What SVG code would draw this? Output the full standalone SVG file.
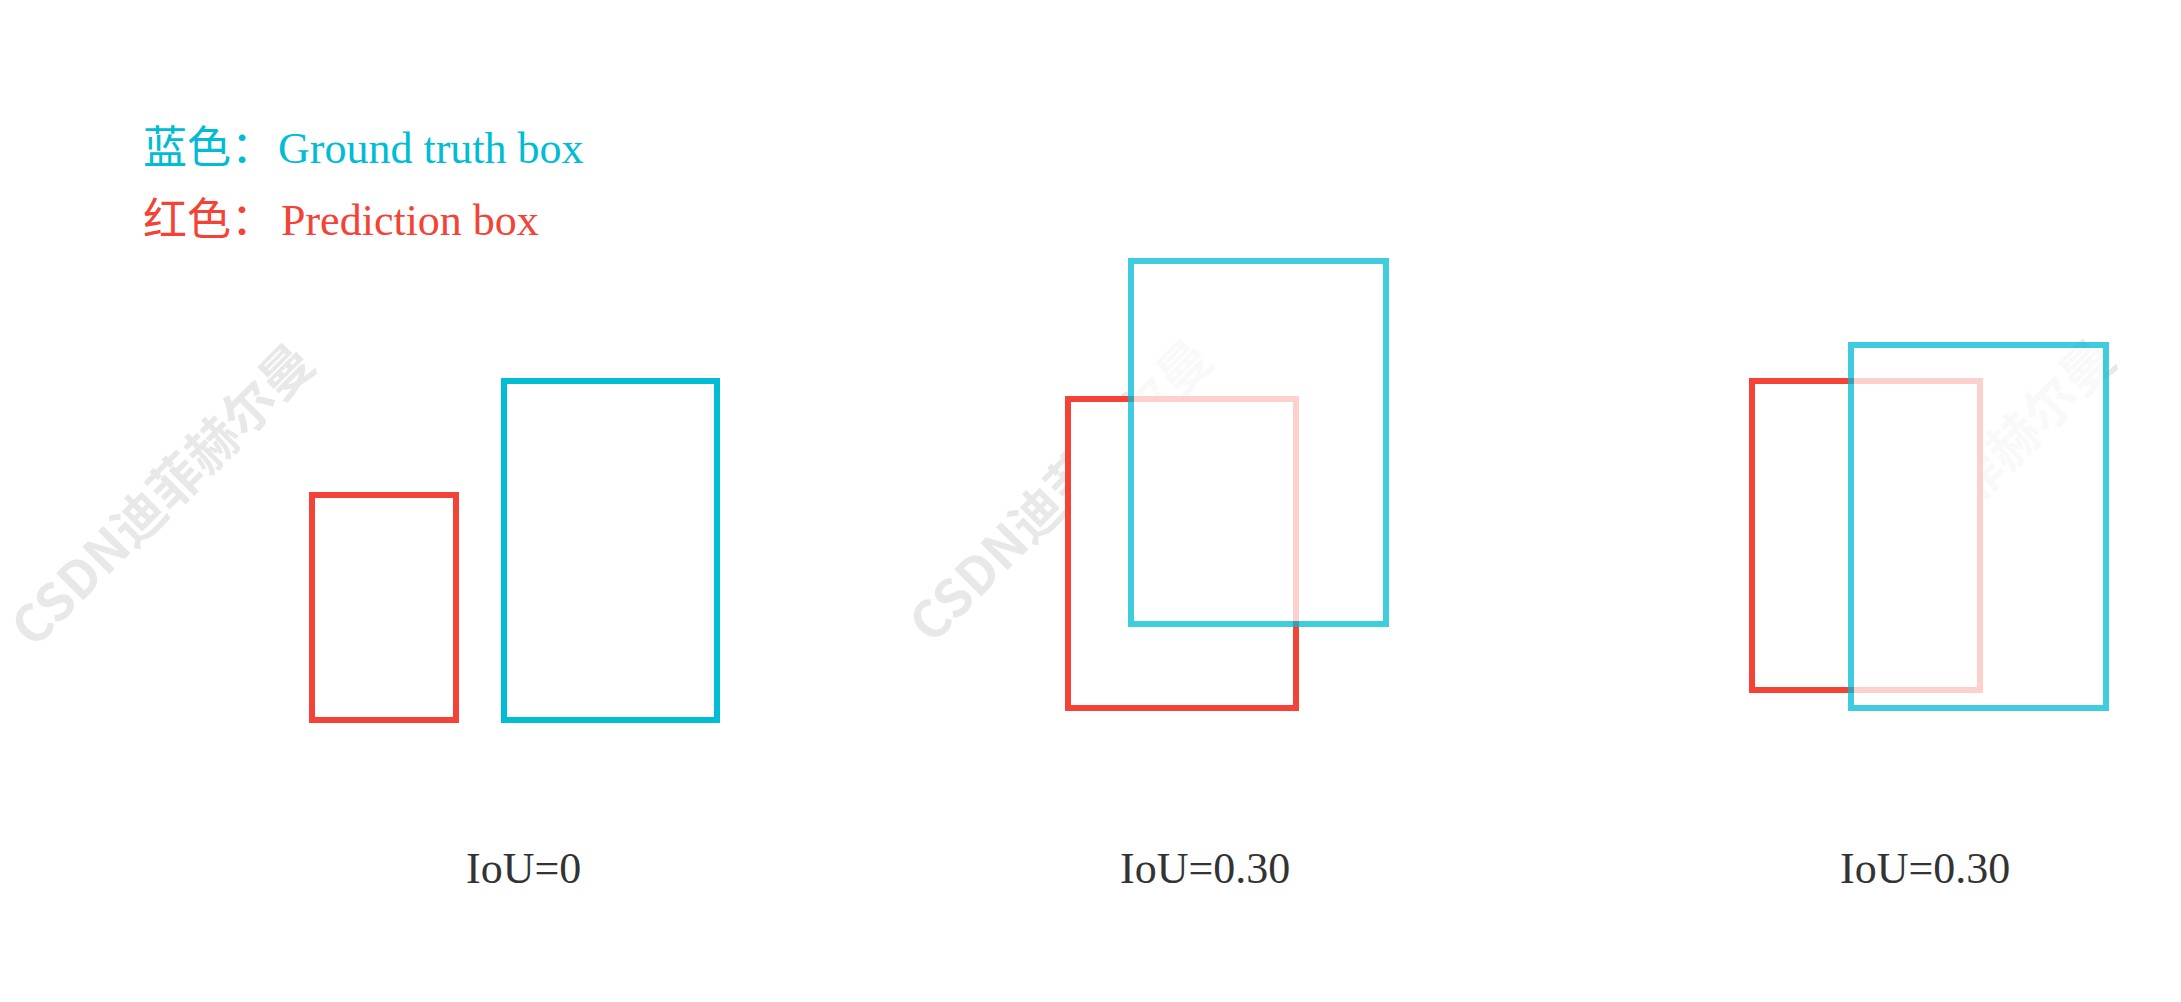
<svg xmlns="http://www.w3.org/2000/svg" width="2181" height="1002" viewBox="0 0 2181 1002">
<style>
  .wm { font-family: "Noto Sans CJK SC", "Noto Sans", sans-serif; font-size: 52px; font-weight: bold; fill: #000; fill-opacity: 0.09; }
  .pred { fill: #ffffff; stroke: #F44336; stroke-width: 6; }
  .gt { fill: none; stroke: #00BCD4; stroke-width: 6; }
  .gtov { fill: #ffffff; stroke: #00BCD4; stroke-width: 6; opacity: 0.75; }
  .lbl { font-family: "Liberation Serif", "Times New Roman", serif; font-size: 44px; fill: #333333; }
  .leg { font-family: "Liberation Serif", "Times New Roman", serif; font-size: 44px; }
  .cjk { font-family: "Noto Sans CJK SC", sans-serif; }
</style>
<rect x="0" y="0" width="2181" height="1002" fill="#ffffff"/>

<g id="watermarks">
  <text class="wm" text-anchor="middle" dominant-baseline="central" transform="translate(160,492) rotate(-45)">CSDN迪菲赫尔曼</text>
  <text class="wm" text-anchor="middle" dominant-baseline="central" transform="translate(1058,488) rotate(-45)">CSDN迪菲赫尔曼</text>
  <text class="wm" text-anchor="middle" dominant-baseline="central" transform="translate(1961,488) rotate(-45)">CSDN迪菲赫尔曼</text>
</g>

<g id="legend">
  <text class="leg" y="163" fill="#00BCD4"><tspan class="cjk" x="143">蓝色：</tspan><tspan x="278">Ground truth box</tspan></text>
  <text class="leg" y="235" fill="#F44336"><tspan class="cjk" x="143">红色：</tspan><tspan x="281">Prediction box</tspan></text>
</g>

<g id="case1">
  <rect class="pred" x="312" y="495" width="144" height="225"/>
  <rect class="gt" x="504" y="381" width="213" height="339"/>
  <text class="lbl" x="466" y="883">IoU=0</text>
</g>

<g id="case2">
  <rect class="pred" x="1068" y="399" width="228" height="309"/>
  <rect class="gtov" x="1131" y="261" width="255" height="363"/>
  <text class="lbl" x="1120" y="883">IoU=0.30</text>
</g>

<g id="case3">
  <rect class="pred" x="1752" y="381" width="228" height="309"/>
  <rect class="gtov" x="1851" y="345" width="255" height="363"/>
  <text class="lbl" x="1840" y="883">IoU=0.30</text>
</g>
</svg>
